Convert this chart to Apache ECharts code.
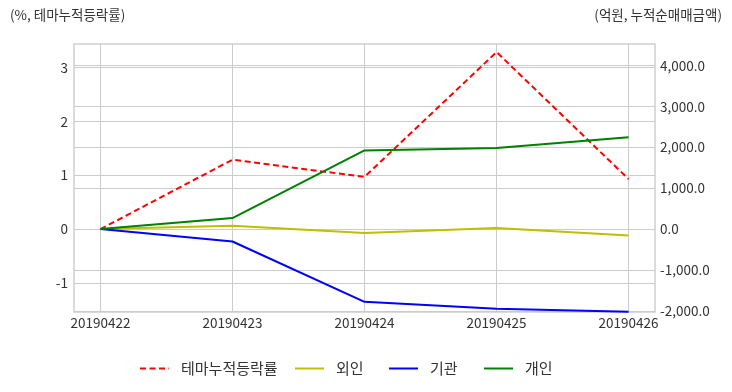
<!DOCTYPE html>
<html><head><meta charset="utf-8">
<script src="https://cdn.jsdelivr.net/npm/echarts@6/dist/echarts.min.js"></script>
<style>html,body{margin:0;padding:0;background:#fff}#c{width:732px;height:392px}</style>
</head><body><div id="c"></div>
<script>
const categories = ['20190422','20190423','20190424','20190425','20190426'];
const seriesNames = ['테마누적등락률', '외인', '기관', '개인'];
const themeRate = [0, 1.29, 0.97, 3.29, 0.93];
const foreign = [0, 80, -98, 25, -157];
const institution = [0, -304, -1782, -1953, -2025];
const individual = [0, 270, 1926, 1985, 2245];
const leftTicks = [-1, 0, 1, 2, 3];
const rightTicks = [-2000, -1000, 0, 1000, 2000, 3000, 4000];
const xTicks = [0, 1, 2, 3, 4];

const FONT = "'Noto Sans CJK KR', sans-serif";
const toXY = arr => arr.map((v, i) => [i, v]);
const chart = echarts.init(document.getElementById('c'));
const gridLine = {show: true, lineStyle: {color: '#cccccc', width: 1}};
const legendLefts = [139, 294, 388, 483];
const legends = seriesNames.map((n, i) => ({
  left: legendLefts[i], top: 361, padding: 0, itemWidth: 29, itemHeight: 14, itemGap: 10,
  itemStyle: {opacity: 0},
  textStyle: {fontSize: 15, color: '#333', fontFamily: FONT, padding: [0, 0, 0, 7]},
  data: [n]
}));
chart.setOption({
  animation: false,
  textStyle: {fontFamily: FONT},
  graphic: [
    {type: 'text', left: 10, top: 8, style: {text: '(%, 테마누적등락률)', font: '13.5px ' + FONT, fill: '#333'}},
    {type: 'text', right: 10, top: 8, style: {text: '(억원, 누적순매매금액)', font: '13.5px ' + FONT, fill: '#333'}}
  ],
  grid: {left: 74, right: 77, top: 44, bottom: 80, show: true, borderColor: '#cfcfcf', borderWidth: 1.5, containLabel: false},
  legend: legends,
  xAxis: {
    type: 'value', min: -0.2, max: 4.2,
    axisLine: {show: false}, axisTick: {show: false, customValues: xTicks},
    axisLabel: {customValues: xTicks, formatter: v => categories[Math.round(v)] || '', color: '#333', fontSize: 13.5, margin: 4, fontFamily: FONT},
    splitLine: gridLine
  },
  yAxis: [
    {type: 'value', min: -1.54, max: 3.44,
     axisLine: {show: false}, axisTick: {show: false, customValues: leftTicks},
     axisLabel: {customValues: leftTicks, color: '#333', fontSize: 13.5, margin: 6, fontFamily: FONT},
     splitLine: gridLine},
    {type: 'value', min: -2030, max: 4530, position: 'right',
     axisLine: {show: false}, axisTick: {show: false, customValues: rightTicks},
     axisLabel: {customValues: rightTicks, color: '#333', fontSize: 13.5, margin: 5, fontFamily: FONT,
       formatter: v => v.toLocaleString('en-US', {minimumFractionDigits: 1, maximumFractionDigits: 1})},
     splitLine: gridLine}
  ],
  series: [
    {name: seriesNames[0], type: 'line', yAxisIndex: 0, data: toXY(themeRate), symbol: 'none',
     lineStyle: {color: '#ff0000', width: 2, type: [6, 3.5]}, itemStyle: {color: '#ff0000'}},
    {name: seriesNames[1], type: 'line', yAxisIndex: 1, data: toXY(foreign), symbol: 'none',
     lineStyle: {color: '#bfbf00', width: 2}, itemStyle: {color: '#bfbf00'}},
    {name: seriesNames[2], type: 'line', yAxisIndex: 1, data: toXY(institution), symbol: 'none',
     lineStyle: {color: '#0000ff', width: 2}, itemStyle: {color: '#0000ff'}},
    {name: seriesNames[3], type: 'line', yAxisIndex: 1, data: toXY(individual), symbol: 'none',
     lineStyle: {color: '#008000', width: 2}, itemStyle: {color: '#008000'}}
  ]
});
</script></body></html>
